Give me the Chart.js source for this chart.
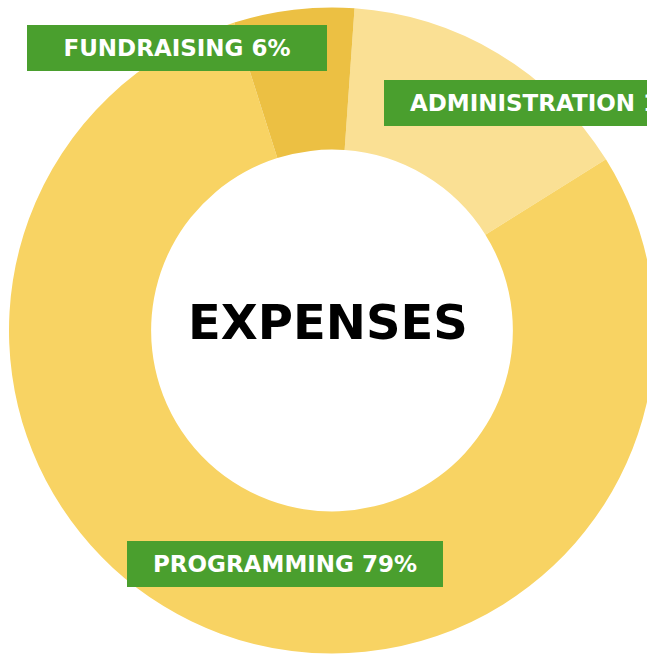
<!DOCTYPE html>
<html>
<head>
<meta charset="utf-8">
<script src="https://cdn.jsdelivr.net/npm/chart.js@4"></script>
<style>
  html, body { margin: 0; padding: 0; background: #fff; }
  body { width: 647px; height: 654px; overflow: hidden; position: relative; }
  #wrap { position: absolute; left: 0; top: 0; width: 664px; height: 660px; }
  .tag {
    position: absolute; height: 46px; line-height: 46px; background: #4A9F2E; color: #fff;
    font-family: "DejaVu Sans", sans-serif; font-weight: bold; font-size: 23px;
    text-align: center; white-space: nowrap;
  }
</style>
</head>
<body>
<div id="wrap"><canvas id="expenses-chart" width="664" height="660"></canvas></div>
<div id="tags"></div>
<script>
// 지출 항목 (%)
const categories = ['Administration', 'Programming', 'Fundraising'];
const values = [15, 79, 6];
const colors = ['#FAE094', '#F8D363', '#ECC043'];
const centerTitle = 'EXPENSES';

// 라벨 박스 위치
const tagBoxes = [
  { left: 384, top: 80, width: 340 },
  { left: 127, top: 541, width: 316 },
  { left: 27, top: 25, width: 300 }
];

const centerText = {
  id: 'centerText',
  afterDraw(chart) {
    const ctx = chart.ctx;
    const arc = chart.getDatasetMeta(0).data[0];
    ctx.save();
    ctx.fillStyle = '#000';
    ctx.font = 'bold 48px "DejaVu Sans"';
    ctx.textAlign = 'center';
    ctx.textBaseline = 'alphabetic';
    ctx.fillText(centerTitle, arc.x - 4, arc.y + 8);
    ctx.restore();
  }
};

new Chart(document.getElementById('expenses-chart'), {
  type: 'doughnut',
  data: {
    labels: categories,
    datasets: [{
      data: values,
      backgroundColor: colors,
      borderWidth: 0,
      hoverOffset: 0
    }]
  },
  options: {
    responsive: false,
    animation: false,
    rotation: 4,
    cutout: '56%',
    layout: { padding: { top: 7, bottom: 6, left: 9, right: 9 } },
    plugins: { legend: { display: false }, tooltip: { enabled: false } }
  },
  plugins: [centerText]
});

const tags = document.getElementById('tags');
for (let i = 0; i < categories.length; i++) {
  const d = document.createElement('div');
  d.className = 'tag';
  d.style.left = tagBoxes[i].left + 'px';
  d.style.top = tagBoxes[i].top + 'px';
  d.style.width = tagBoxes[i].width + 'px';
  d.textContent = categories[i].toUpperCase() + ' ' + values[i] + '%';
  tags.appendChild(d);
}
</script>
</body>
</html>
